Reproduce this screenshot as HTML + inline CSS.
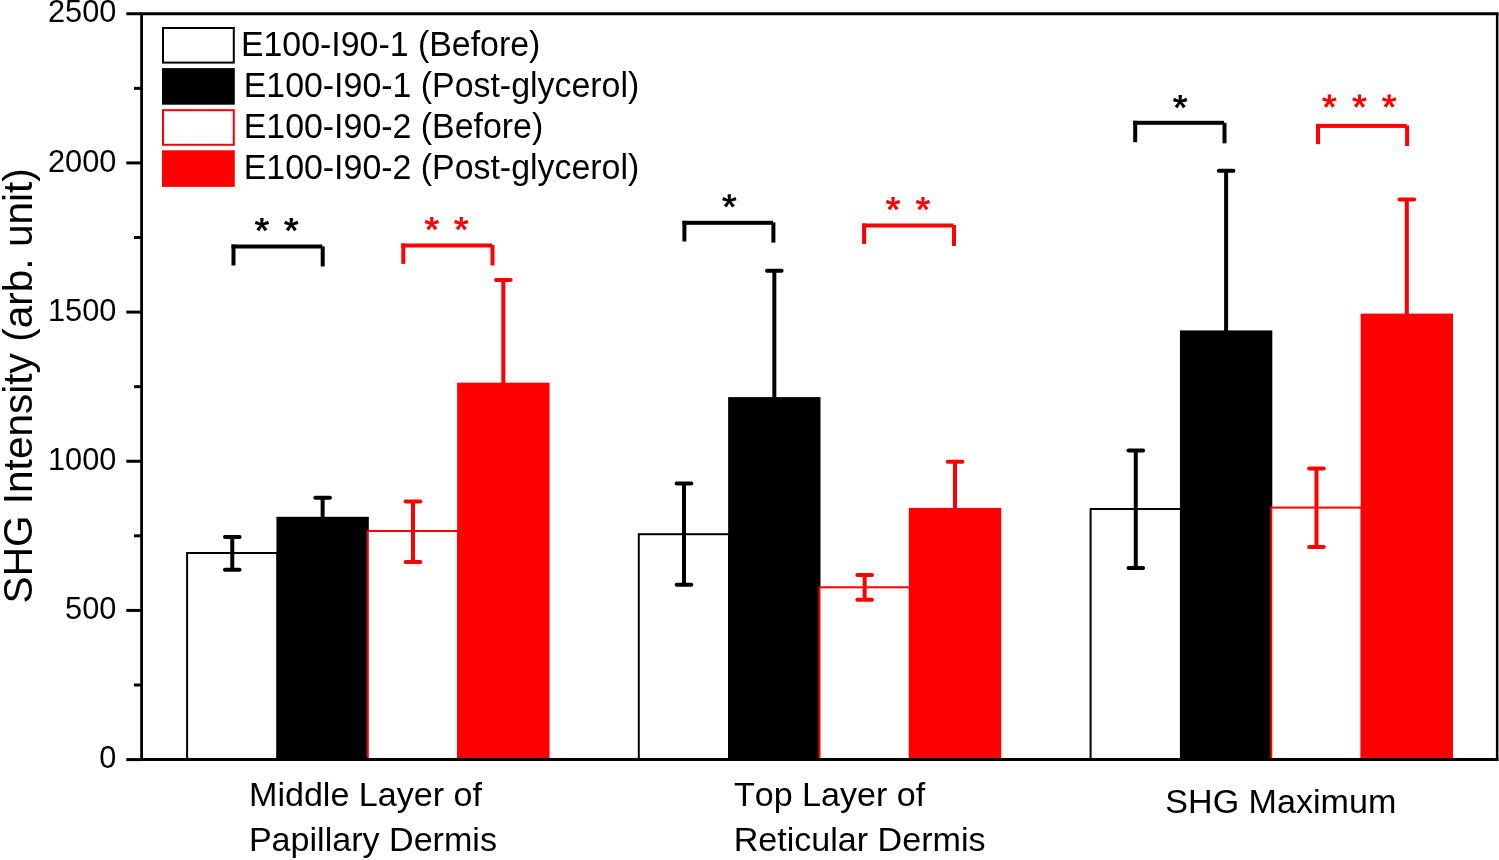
<!DOCTYPE html>
<html><head><meta charset="utf-8"><title>SHG Intensity chart</title>
<style>html,body{margin:0;padding:0;background:#fff}body{width:1499px;height:860px}svg text{font-family:"Liberation Sans",sans-serif}svg{will-change:transform}text{font-kerning:none}</style>
</head><body>
<svg width="1499" height="860" viewBox="0 0 1499 860" style="display:block">
<rect x="0" y="0" width="1499" height="860" fill="#ffffff"/>
<rect x="187.10" y="553.00" width="90.35" height="206.60" fill="#ffffff" stroke="#000000" stroke-width="2"/>
<rect x="277.45" y="517.80" width="90.35" height="241.80" fill="#000000" stroke="#000000" stroke-width="2"/>
<rect x="367.80" y="531.00" width="90.35" height="228.60" fill="#ffffff" stroke="#fe0000" stroke-width="2"/>
<rect x="458.15" y="383.70" width="90.35" height="375.90" fill="#fe0000" stroke="#fe0000" stroke-width="2"/>
<g stroke="#000000" stroke-width="4" fill="none">
<line x1="232.28" y1="536.90" x2="232.28" y2="569.80"/>
<line x1="224.98" y1="536.90" x2="239.58" y2="536.90" stroke-linecap="round"/>
<line x1="224.98" y1="569.80" x2="239.58" y2="569.80" stroke-linecap="round"/>
</g>
<g stroke="#000000" stroke-width="4" fill="none">
<line x1="322.62" y1="497.80" x2="322.62" y2="517.80"/>
<line x1="315.32" y1="497.80" x2="329.93" y2="497.80" stroke-linecap="round"/>
</g>
<g stroke="#fe0000" stroke-width="4" fill="none">
<line x1="412.98" y1="501.40" x2="412.98" y2="561.90"/>
<line x1="405.68" y1="501.40" x2="420.28" y2="501.40" stroke-linecap="round"/>
<line x1="405.68" y1="561.90" x2="420.28" y2="561.90" stroke-linecap="round"/>
</g>
<g stroke="#fe0000" stroke-width="4" fill="none">
<line x1="503.32" y1="280.00" x2="503.32" y2="383.70"/>
<line x1="496.02" y1="280.00" x2="510.62" y2="280.00" stroke-linecap="round"/>
</g>
<rect x="638.80" y="534.20" width="90.35" height="225.40" fill="#ffffff" stroke="#000000" stroke-width="2"/>
<rect x="729.15" y="398.10" width="90.35" height="361.50" fill="#000000" stroke="#000000" stroke-width="2"/>
<rect x="819.50" y="587.30" width="90.35" height="172.30" fill="#ffffff" stroke="#fe0000" stroke-width="2"/>
<rect x="909.85" y="508.90" width="90.35" height="250.70" fill="#fe0000" stroke="#fe0000" stroke-width="2"/>
<g stroke="#000000" stroke-width="4" fill="none">
<line x1="683.98" y1="483.40" x2="683.98" y2="584.80"/>
<line x1="676.68" y1="483.40" x2="691.27" y2="483.40" stroke-linecap="round"/>
<line x1="676.68" y1="584.80" x2="691.27" y2="584.80" stroke-linecap="round"/>
</g>
<g stroke="#000000" stroke-width="4" fill="none">
<line x1="774.33" y1="270.70" x2="774.33" y2="398.10"/>
<line x1="767.03" y1="270.70" x2="781.62" y2="270.70" stroke-linecap="round"/>
</g>
<g stroke="#fe0000" stroke-width="4" fill="none">
<line x1="864.67" y1="574.90" x2="864.67" y2="599.80"/>
<line x1="857.38" y1="574.90" x2="871.97" y2="574.90" stroke-linecap="round"/>
<line x1="857.38" y1="599.80" x2="871.97" y2="599.80" stroke-linecap="round"/>
</g>
<g stroke="#fe0000" stroke-width="4" fill="none">
<line x1="955.02" y1="461.70" x2="955.02" y2="508.90"/>
<line x1="947.73" y1="461.70" x2="962.32" y2="461.70" stroke-linecap="round"/>
</g>
<rect x="1090.60" y="509.00" width="90.35" height="250.60" fill="#ffffff" stroke="#000000" stroke-width="2"/>
<rect x="1180.95" y="331.40" width="90.35" height="428.20" fill="#000000" stroke="#000000" stroke-width="2"/>
<rect x="1271.30" y="507.60" width="90.35" height="252.00" fill="#ffffff" stroke="#fe0000" stroke-width="2"/>
<rect x="1361.65" y="314.60" width="90.35" height="445.00" fill="#fe0000" stroke="#fe0000" stroke-width="2"/>
<g stroke="#000000" stroke-width="4" fill="none">
<line x1="1135.78" y1="450.50" x2="1135.78" y2="568.00"/>
<line x1="1128.48" y1="450.50" x2="1143.08" y2="450.50" stroke-linecap="round"/>
<line x1="1128.48" y1="568.00" x2="1143.08" y2="568.00" stroke-linecap="round"/>
</g>
<g stroke="#000000" stroke-width="4" fill="none">
<line x1="1226.12" y1="170.70" x2="1226.12" y2="331.40"/>
<line x1="1218.83" y1="170.70" x2="1233.42" y2="170.70" stroke-linecap="round"/>
</g>
<g stroke="#fe0000" stroke-width="4" fill="none">
<line x1="1316.47" y1="468.40" x2="1316.47" y2="547.00"/>
<line x1="1309.17" y1="468.40" x2="1323.77" y2="468.40" stroke-linecap="round"/>
<line x1="1309.17" y1="547.00" x2="1323.77" y2="547.00" stroke-linecap="round"/>
</g>
<g stroke="#fe0000" stroke-width="4" fill="none">
<line x1="1406.82" y1="199.40" x2="1406.82" y2="314.60"/>
<line x1="1399.52" y1="199.40" x2="1414.12" y2="199.40" stroke-linecap="round"/>
</g>
<g stroke="#000000" stroke-width="3.0" fill="none">
<line x1="140.20" y1="13.75" x2="1498.55" y2="13.75"/>
<line x1="140.20" y1="759.60" x2="1498.55" y2="759.60"/>
<line x1="141.60" y1="13.75" x2="141.60" y2="759.60" stroke-width="2.8"/>
<line x1="1497.15" y1="13.75" x2="1497.15" y2="759.60" stroke-width="2.5"/>
<line x1="126.30" y1="759.60" x2="141.60" y2="759.60"/>
<line x1="134.00" y1="685.01" x2="141.60" y2="685.01"/>
<line x1="126.30" y1="610.43" x2="141.60" y2="610.43"/>
<line x1="134.00" y1="535.85" x2="141.60" y2="535.85"/>
<line x1="126.30" y1="461.26" x2="141.60" y2="461.26"/>
<line x1="134.00" y1="386.68" x2="141.60" y2="386.68"/>
<line x1="126.30" y1="312.09" x2="141.60" y2="312.09"/>
<line x1="134.00" y1="237.50" x2="141.60" y2="237.50"/>
<line x1="126.30" y1="162.92" x2="141.60" y2="162.92"/>
<line x1="134.00" y1="88.34" x2="141.60" y2="88.34"/>
<line x1="126.30" y1="13.75" x2="141.60" y2="13.75"/>
</g>
<text transform="translate(116.4,768.20) scale(1,1.035)" font-family="Liberation Sans, sans-serif" font-size="30.75" text-anchor="end" fill="#000">0</text>
<text transform="translate(116.4,619.03) scale(1,1.035)" font-family="Liberation Sans, sans-serif" font-size="30.75" text-anchor="end" fill="#000">500</text>
<text transform="translate(116.4,469.86) scale(1,1.035)" font-family="Liberation Sans, sans-serif" font-size="30.75" text-anchor="end" fill="#000">1000</text>
<text transform="translate(116.4,320.69) scale(1,1.035)" font-family="Liberation Sans, sans-serif" font-size="30.75" text-anchor="end" fill="#000">1500</text>
<text transform="translate(116.4,171.52) scale(1,1.035)" font-family="Liberation Sans, sans-serif" font-size="30.75" text-anchor="end" fill="#000">2000</text>
<text transform="translate(116.4,22.35) scale(1,1.035)" font-family="Liberation Sans, sans-serif" font-size="30.75" text-anchor="end" fill="#000">2500</text>
<text transform="translate(32,385.8) rotate(-90)" font-family="Liberation Sans, sans-serif" font-size="40.6" text-anchor="middle" fill="#000">SHG Intensity (arb. unit)</text>
<rect x="163" y="28.00" width="70.8" height="34.6" fill="#ffffff" stroke="#000000" stroke-width="2"/>
<text transform="translate(240.9,56.00) scale(1,1.035)" font-family="Liberation Sans, sans-serif" font-size="33.9" fill="#000">E100-I90-1 (Before)</text>
<rect x="163" y="69.10" width="70.8" height="34.6" fill="#000000" stroke="#000000" stroke-width="2"/>
<text transform="translate(243.7,97.00) scale(1,1.035)" font-family="Liberation Sans, sans-serif" font-size="33.9" fill="#000">E100-I90-1 (Post-glycerol)</text>
<rect x="163" y="110.20" width="70.8" height="34.6" fill="#ffffff" stroke="#fe0000" stroke-width="2"/>
<text transform="translate(243.7,138.00) scale(1,1.035)" font-family="Liberation Sans, sans-serif" font-size="33.9" fill="#000">E100-I90-2 (Before)</text>
<rect x="163" y="151.30" width="70.8" height="34.6" fill="#fe0000" stroke="#fe0000" stroke-width="2"/>
<text transform="translate(243.7,179.00) scale(1,1.035)" font-family="Liberation Sans, sans-serif" font-size="33.9" fill="#000">E100-I90-2 (Post-glycerol)</text>
<text x="249.0" y="806" font-family="Liberation Sans, sans-serif" font-size="34.1" fill="#000">Middle Layer of</text>
<text x="248.9" y="851.4" font-family="Liberation Sans, sans-serif" font-size="34.1" fill="#000">Papillary Dermis</text>
<text x="733.9" y="806" font-family="Liberation Sans, sans-serif" font-size="34.1" fill="#000">Top Layer of</text>
<text x="733.7" y="851.4" font-family="Liberation Sans, sans-serif" font-size="34.1" fill="#000">Reticular Dermis</text>
<text x="1165.3" y="812.6" font-family="Liberation Sans, sans-serif" font-size="34.1" fill="#000">SHG Maximum</text>
<rect x="231.50" y="244.50" width="4" height="21.00" fill="#000000"/>
<rect x="231.50" y="244.50" width="90.80" height="4" fill="#000000"/>
<rect x="320.70" y="246.40" width="4" height="20.10" fill="#000000"/>
<g transform="translate(261.90,224.55)" fill="#000000"><path d="M-1.75,-6.55 L1.75,-6.55 L1.2,0 L-1.2,0 Z"/><path d="M-1.75,-7.0 L1.75,-7.0 L1.2,0 L-1.2,0 Z" transform="rotate(72)"/><path d="M-1.75,-7.0 L1.75,-7.0 L1.2,0 L-1.2,0 Z" transform="rotate(144)"/><path d="M-1.75,-7.0 L1.75,-7.0 L1.2,0 L-1.2,0 Z" transform="rotate(216)"/><path d="M-1.75,-7.0 L1.75,-7.0 L1.2,0 L-1.2,0 Z" transform="rotate(288)"/></g>
<g transform="translate(291.30,224.55)" fill="#000000"><path d="M-1.75,-6.55 L1.75,-6.55 L1.2,0 L-1.2,0 Z"/><path d="M-1.75,-7.0 L1.75,-7.0 L1.2,0 L-1.2,0 Z" transform="rotate(72)"/><path d="M-1.75,-7.0 L1.75,-7.0 L1.2,0 L-1.2,0 Z" transform="rotate(144)"/><path d="M-1.75,-7.0 L1.75,-7.0 L1.2,0 L-1.2,0 Z" transform="rotate(216)"/><path d="M-1.75,-7.0 L1.75,-7.0 L1.2,0 L-1.2,0 Z" transform="rotate(288)"/></g>
<rect x="401.30" y="243.50" width="4" height="20.40" fill="#fe0000"/>
<rect x="401.30" y="243.50" width="90.80" height="4" fill="#fe0000"/>
<rect x="490.50" y="245.00" width="4" height="20.50" fill="#fe0000"/>
<g transform="translate(431.80,223.65)" fill="#fe0000"><path d="M-1.75,-6.55 L1.75,-6.55 L1.2,0 L-1.2,0 Z"/><path d="M-1.75,-7.0 L1.75,-7.0 L1.2,0 L-1.2,0 Z" transform="rotate(72)"/><path d="M-1.75,-7.0 L1.75,-7.0 L1.2,0 L-1.2,0 Z" transform="rotate(144)"/><path d="M-1.75,-7.0 L1.75,-7.0 L1.2,0 L-1.2,0 Z" transform="rotate(216)"/><path d="M-1.75,-7.0 L1.75,-7.0 L1.2,0 L-1.2,0 Z" transform="rotate(288)"/></g>
<g transform="translate(461.30,223.65)" fill="#fe0000"><path d="M-1.75,-6.55 L1.75,-6.55 L1.2,0 L-1.2,0 Z"/><path d="M-1.75,-7.0 L1.75,-7.0 L1.2,0 L-1.2,0 Z" transform="rotate(72)"/><path d="M-1.75,-7.0 L1.75,-7.0 L1.2,0 L-1.2,0 Z" transform="rotate(144)"/><path d="M-1.75,-7.0 L1.75,-7.0 L1.2,0 L-1.2,0 Z" transform="rotate(216)"/><path d="M-1.75,-7.0 L1.75,-7.0 L1.2,0 L-1.2,0 Z" transform="rotate(288)"/></g>
<rect x="682.40" y="220.80" width="4" height="20.70" fill="#000000"/>
<rect x="682.40" y="220.80" width="90.60" height="4" fill="#000000"/>
<rect x="771.40" y="222.40" width="4" height="20.20" fill="#000000"/>
<g transform="translate(729.30,200.85)" fill="#000000"><path d="M-1.75,-6.55 L1.75,-6.55 L1.2,0 L-1.2,0 Z"/><path d="M-1.75,-7.0 L1.75,-7.0 L1.2,0 L-1.2,0 Z" transform="rotate(72)"/><path d="M-1.75,-7.0 L1.75,-7.0 L1.2,0 L-1.2,0 Z" transform="rotate(144)"/><path d="M-1.75,-7.0 L1.75,-7.0 L1.2,0 L-1.2,0 Z" transform="rotate(216)"/><path d="M-1.75,-7.0 L1.75,-7.0 L1.2,0 L-1.2,0 Z" transform="rotate(288)"/></g>
<rect x="862.10" y="223.50" width="4" height="20.50" fill="#fe0000"/>
<rect x="862.10" y="223.50" width="91.50" height="4" fill="#fe0000"/>
<rect x="952.00" y="225.00" width="4" height="21.00" fill="#fe0000"/>
<g transform="translate(893.10,203.65)" fill="#fe0000"><path d="M-1.75,-6.55 L1.75,-6.55 L1.2,0 L-1.2,0 Z"/><path d="M-1.75,-7.0 L1.75,-7.0 L1.2,0 L-1.2,0 Z" transform="rotate(72)"/><path d="M-1.75,-7.0 L1.75,-7.0 L1.2,0 L-1.2,0 Z" transform="rotate(144)"/><path d="M-1.75,-7.0 L1.75,-7.0 L1.2,0 L-1.2,0 Z" transform="rotate(216)"/><path d="M-1.75,-7.0 L1.75,-7.0 L1.2,0 L-1.2,0 Z" transform="rotate(288)"/></g>
<g transform="translate(922.90,203.65)" fill="#fe0000"><path d="M-1.75,-6.55 L1.75,-6.55 L1.2,0 L-1.2,0 Z"/><path d="M-1.75,-7.0 L1.75,-7.0 L1.2,0 L-1.2,0 Z" transform="rotate(72)"/><path d="M-1.75,-7.0 L1.75,-7.0 L1.2,0 L-1.2,0 Z" transform="rotate(144)"/><path d="M-1.75,-7.0 L1.75,-7.0 L1.2,0 L-1.2,0 Z" transform="rotate(216)"/><path d="M-1.75,-7.0 L1.75,-7.0 L1.2,0 L-1.2,0 Z" transform="rotate(288)"/></g>
<rect x="1133.20" y="120.80" width="4" height="21.40" fill="#000000"/>
<rect x="1133.20" y="120.80" width="90.90" height="4" fill="#000000"/>
<rect x="1222.50" y="122.80" width="4" height="20.50" fill="#000000"/>
<g transform="translate(1180.20,101.65)" fill="#000000"><path d="M-1.75,-6.55 L1.75,-6.55 L1.2,0 L-1.2,0 Z"/><path d="M-1.75,-7.0 L1.75,-7.0 L1.2,0 L-1.2,0 Z" transform="rotate(72)"/><path d="M-1.75,-7.0 L1.75,-7.0 L1.2,0 L-1.2,0 Z" transform="rotate(144)"/><path d="M-1.75,-7.0 L1.75,-7.0 L1.2,0 L-1.2,0 Z" transform="rotate(216)"/><path d="M-1.75,-7.0 L1.75,-7.0 L1.2,0 L-1.2,0 Z" transform="rotate(288)"/></g>
<rect x="1316.00" y="123.90" width="4" height="20.30" fill="#fe0000"/>
<rect x="1316.00" y="123.90" width="90.70" height="4" fill="#fe0000"/>
<rect x="1405.10" y="125.50" width="4" height="20.50" fill="#fe0000"/>
<g transform="translate(1329.40,101.05)" fill="#fe0000"><path d="M-1.75,-6.55 L1.75,-6.55 L1.2,0 L-1.2,0 Z"/><path d="M-1.75,-7.0 L1.75,-7.0 L1.2,0 L-1.2,0 Z" transform="rotate(72)"/><path d="M-1.75,-7.0 L1.75,-7.0 L1.2,0 L-1.2,0 Z" transform="rotate(144)"/><path d="M-1.75,-7.0 L1.75,-7.0 L1.2,0 L-1.2,0 Z" transform="rotate(216)"/><path d="M-1.75,-7.0 L1.75,-7.0 L1.2,0 L-1.2,0 Z" transform="rotate(288)"/></g>
<g transform="translate(1359.50,101.05)" fill="#fe0000"><path d="M-1.75,-6.55 L1.75,-6.55 L1.2,0 L-1.2,0 Z"/><path d="M-1.75,-7.0 L1.75,-7.0 L1.2,0 L-1.2,0 Z" transform="rotate(72)"/><path d="M-1.75,-7.0 L1.75,-7.0 L1.2,0 L-1.2,0 Z" transform="rotate(144)"/><path d="M-1.75,-7.0 L1.75,-7.0 L1.2,0 L-1.2,0 Z" transform="rotate(216)"/><path d="M-1.75,-7.0 L1.75,-7.0 L1.2,0 L-1.2,0 Z" transform="rotate(288)"/></g>
<g transform="translate(1389.20,101.05)" fill="#fe0000"><path d="M-1.75,-6.55 L1.75,-6.55 L1.2,0 L-1.2,0 Z"/><path d="M-1.75,-7.0 L1.75,-7.0 L1.2,0 L-1.2,0 Z" transform="rotate(72)"/><path d="M-1.75,-7.0 L1.75,-7.0 L1.2,0 L-1.2,0 Z" transform="rotate(144)"/><path d="M-1.75,-7.0 L1.75,-7.0 L1.2,0 L-1.2,0 Z" transform="rotate(216)"/><path d="M-1.75,-7.0 L1.75,-7.0 L1.2,0 L-1.2,0 Z" transform="rotate(288)"/></g>
</svg>
</body></html>
